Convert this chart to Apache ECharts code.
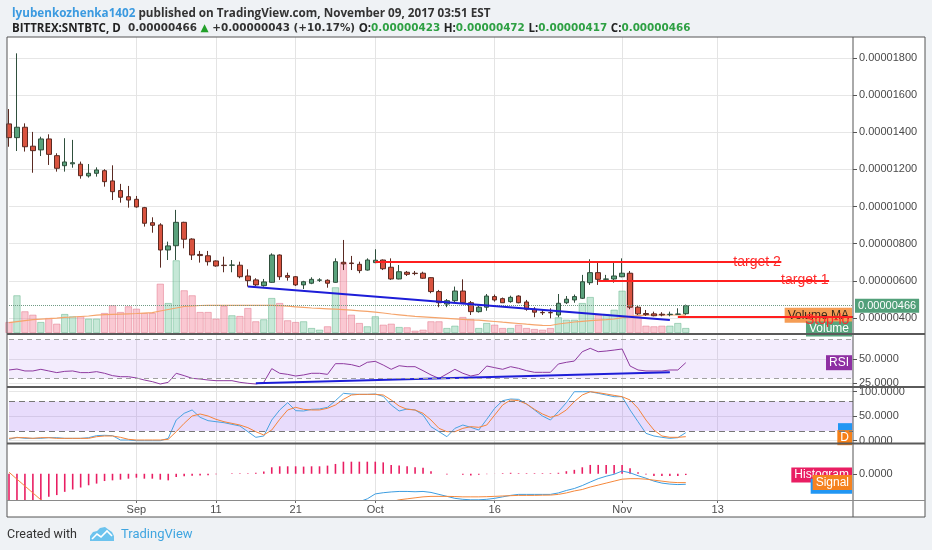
<!DOCTYPE html>
<html><head><meta charset="utf-8">
<script src="https://cdn.jsdelivr.net/npm/echarts@6/dist/echarts.min.js"></script>
<style>html,body{margin:0;padding:0;background:#fff}#c{width:932px;height:550px}</style>
</head><body><div id="c"></div><script>
// ---------- DATA ----------
const categories = [
'2017-08-16','2017-08-17','2017-08-18','2017-08-19','2017-08-20','2017-08-21','2017-08-22','2017-08-23','2017-08-24','2017-08-25','2017-08-26','2017-08-27','2017-08-28','2017-08-29','2017-08-30','2017-08-31',
'2017-09-01','2017-09-02','2017-09-03','2017-09-04','2017-09-05','2017-09-06','2017-09-07','2017-09-08','2017-09-09','2017-09-10','2017-09-11','2017-09-12','2017-09-13','2017-09-14','2017-09-15','2017-09-16','2017-09-17','2017-09-18','2017-09-19','2017-09-20','2017-09-21','2017-09-22','2017-09-23','2017-09-24','2017-09-25','2017-09-26','2017-09-27','2017-09-28','2017-09-29','2017-09-30',
'2017-10-01','2017-10-02','2017-10-03','2017-10-04','2017-10-05','2017-10-06','2017-10-07','2017-10-08','2017-10-09','2017-10-10','2017-10-11','2017-10-12','2017-10-13','2017-10-14','2017-10-15','2017-10-16','2017-10-17','2017-10-18','2017-10-19','2017-10-20','2017-10-21','2017-10-22','2017-10-23','2017-10-24','2017-10-25','2017-10-26','2017-10-27','2017-10-28','2017-10-29','2017-10-30','2017-10-31',
'2017-11-01','2017-11-02','2017-11-03','2017-11-04','2017-11-05','2017-11-06','2017-11-07','2017-11-08','2017-11-09','2017-11-10','2017-11-11','2017-11-12','2017-11-13','2017-11-14','2017-11-15','2017-11-16','2017-11-17','2017-11-18','2017-11-19','2017-11-20','2017-11-21','2017-11-22','2017-11-23','2017-11-24','2017-11-25','2017-11-26','2017-11-27','2017-11-28','2017-11-29','2017-11-30'];
const tickDates = ['2017-09-01','2017-09-11','2017-09-21','2017-10-01','2017-10-16','2017-11-01','2017-11-13'];
const tickLabels = ['Sep','11','21','Oct','16','Nov','13'];

// prices in units of 0.00000001 BTC
const open  = [1445,1371,1427,1325,1305,1364,1274,1220,1230,1228,1165,1179,1193,1138,1086,1053,1039,994,913,901,766,789,915,825,742,735,707,684,684,684,626,605,574,592,739,628,622,578,587,603,603,592,700,696,689,658,698,712,673,610,646,641,641,617,542,475,493,545,482,434,458,515,504,488,518,486,447,430,429,416,482,497,506,590,644,608,610,622,641,458,424,422,420,418,420,423];
const close = [1371,1427,1322,1301,1364,1281,1206,1240,1236,1166,1179,1197,1134,1080,1050,1035,998,910,899,766,788,915,824,739,736,703,680,682,685,622,601,578,594,739,622,619,578,595,608,605,587,703,691,693,655,712,711,665,610,649,635,639,614,542,482,493,545,482,434,458,518,497,482,511,482,447,431,428,428,479,501,515,595,644,608,610,626,641,458,422,418,412,416,420,421,466];
const low   = [1322,1299,1296,1182,1272,1224,1188,1188,1209,1150,1156,1161,1107,1035,1021,994,994,892,859,671,712,712,775,712,698,682,676,646,646,614,569,572,569,590,605,601,572,556,582,594,563,590,658,658,641,655,695,658,605,608,626,630,610,533,458,458,482,479,416,429,439,488,482,482,479,439,404,416,398,404,475,482,502,578,578,599,590,619,447,416,411,409,409,409,416,417];
const high  = [1525,1825,1448,1402,1376,1389,1287,1368,1359,1242,1229,1211,1201,1222,1122,1111,1057,998,942,910,811,982,918,829,761,761,710,730,712,703,662,614,610,748,742,644,626,600,619,614,608,721,820,734,703,721,770,715,721,685,653,653,649,619,551,502,569,608,491,466,529,526,510,520,522,497,458,447,452,529,518,526,632,716,698,632,698,721,653,470,443,434,431,434,452,472];
const priceTicks = [400,600,800,1000,1200,1400,1600,1800];
const lastPrice = 466;
const priceChange = 43;
const priceChangePct = 10.17;

// volume (relative units) and its moving average
const volume   = [11,37.7,21.7,18.3,11,15,9.3,19,16.7,16.7,14.3,14.3,20,27.7,21,26.7,24.3,20,20,49.3,30,72.7,42.7,37.7,21,21,14.3,27,17.7,17,25,11.7,13.7,35,30,12.7,11,11.7,5,3.3,6.7,45.7,70.7,18.3,10,6.7,16.7,8.3,9.3,6,5.7,2.3,3.3,11.7,11.7,5,7.3,16,14,5,10,8.3,5,5,8.3,5,4,3.3,5,15.7,13.3,13.3,30,36,18.3,19,23.3,42.3,60,16.7,7.3,6.7,7.3,7.3,10,5];
const volumeMA = [10.3,11.3,12.3,13.3,13.8,14.3,14.9,15.6,16,16.5,17,17.8,18.3,18.6,18.9,19.2,19.5,19.9,20.3,22,23.5,25,26.5,27,27.5,27.7,27.7,27.7,27.7,27.7,27.7,27.7,27.7,27.7,27.3,26.8,26.2,25.6,25,24.6,24.2,23.8,23.4,22.8,22.2,21.6,20.9,20,19,18.2,17.4,16.7,16.2,15.7,15.2,14.7,14.2,13.7,13.2,12.8,12.2,11.5,10.8,10.2,9.5,8.8,8.2,7.6,7.5,9,10,11,11.7,12.3,12.8,13.3,14,15.3,16.7,17.4,17.8,18,18,18,18,17.8];

// RSI
const rsi = [38.7,39.7,37.7,37.7,39.4,37.7,36,37.3,37.7,36,36,37,35.3,32.9,31.8,31.8,30.5,28.4,26.7,24.3,26,35.3,32.9,30.1,29.4,28.4,27.7,27.7,27.7,26,25,24.3,26,40.1,35.3,34.2,32.5,33.6,35.3,35.3,34.2,45.2,45.2,44.2,42.1,46.6,47.6,43.8,39.4,43.1,42.1,42.1,38,33.6,30.1,34.6,39.4,35.3,32.5,34.2,42.8,41.1,39.4,42.1,40.4,38,36.3,36.3,36.3,44.9,46.6,47.9,57.5,61,57.5,58.2,59.2,60.3,42.8,38.7,37.7,37.7,37.7,38.7,38.7,46.2];
const rsiTicks = [25,50];
const rsiBands = [30,70];

// Stochastic
const stochK = [2.8,6.9,4.8,4.8,4.8,6.2,6.2,4.8,4.8,4.8,6.2,10.3,11,10.3,1.4,1.4,0,0,0,0,4.8,42.2,55.9,62.7,47.7,40.9,38.8,36.8,33.4,30,18.4,6.9,9.6,42.2,62.7,77.6,61.3,60.6,64,64.7,68.1,81.7,96.7,95.3,94.6,94.6,95.3,90.5,72.9,60.6,64.7,62.7,52.4,28.6,18.4,8.2,25.2,32,27.3,21.8,43.6,66.1,81.7,85.1,84.4,74.9,62.7,50.4,42.2,59.2,77.6,100,100,100,96.7,93.3,89.8,89.8,62.7,38.8,15,9.6,6.9,4.8,6.2,16.4];
const stochD = [4.8,6.2,6.2,4.8,6.2,6.2,4.8,4.8,4.8,4.8,4.8,8.2,9.6,9.6,6.9,2.8,1.4,1.4,1.4,1.4,2.8,18.4,35.4,50.4,54.5,50.4,43.6,38.8,35.4,32,26.6,18.4,11.6,21.8,43.6,62.7,68.1,64,62.7,62.7,66.1,72.9,84.4,93.3,94.6,94.6,94.6,93.3,83.1,70.8,64,62.7,55.9,42.2,25.2,18.4,18.4,25.2,28.6,27.3,32,52.4,72.9,83.1,81.7,74.9,64,54.5,47.7,52.4,62.7,79.7,93.3,100,98,95.3,92.5,89.8,83.1,66.1,42.2,21.8,9.6,6.9,6.9,8.2];
const stochTicks = [0,50,100];
const stochBands = [20,80];

// MACD (relative units)
const macdHist = [-33,-32,-30,-29,-27,-23.3,-21.7,-18.4,-16,-14,-11.7,-10,-7.4,-6.7,-6,-5,-4,-5,-5,-6,-6.7,-3.3,-2.4,-2,-1.7,-1.4,-0.4,-0.1,0.6,0.6,0.6,1,2.3,6.6,7.6,7.6,7.6,7.3,7.6,7.6,8.3,10,12.3,12.3,12.3,12.3,12.3,11.6,9,8.3,7.6,6.6,6,2.6,-0.1,-0.7,-0.1,-1,-1.7,-1,-0.4,-0.1,0.6,1,0.6,0.6,0.6,0.6,0.6,1,2.6,4,6.6,9,9,9,9,9,5.6,1.6,-0.7,-2.3,-2.3,-2.3,-2.3,-1.3];
const macdLine = [-31.4,-37.5,-42.5,-48.5,-53.5,-56.3,-60.7,-62.4,-65,-67,-68.2,-69.5,-69.4,-70.7,-71,-71,-71,-73,-74,-76,-77.7,-74.3,-73.4,-72,-70.7,-69.4,-67.4,-66.1,-63.4,-61.4,-59.4,-57,-53.7,-47.4,-44.4,-42.4,-40.4,-39.2,-37.4,-35.9,-33.7,-31,-28.7,-27.7,-28.5,-25.5,-20.5,-19.3,-18.5,-18,-18,-18.3,-18,-19,-21,-23,-25,-26,-26.5,-26.5,-26,-25,-23.5,-22,-21,-21,-21,-21,-21,-19.5,-17,-15,-12,-8.4,-5,-2.5,-0.5,2.8,1,-2,-4.5,-7.5,-9.5,-10.5,-11,-10.7];
const macdSignal = [1.6,-5.5,-12.5,-19.5,-26.5,-33,-39,-44,-49,-53,-56.5,-59.5,-62,-64,-65,-66,-67,-68,-69,-70,-71,-71,-71,-70,-69,-68,-67,-66,-64,-62,-60,-58,-56,-54,-52,-50,-48,-46.5,-45,-43.5,-42,-41,-40,-39,-38,-36,-33,-30.6,-28.5,-26.5,-25.5,-24.5,-23.5,-23,-23,-23,-23.2,-23.5,-23.5,-23.5,-23.3,-23,-22.6,-22.3,-22,-22,-22,-21.8,-21.7,-21,-19.5,-17.5,-16,-13.5,-11.5,-9.5,-7.5,-5.5,-5,-5,-5.5,-6.5,-7.5,-8.5,-9,-9];
const macdTicks = [0];

// drawings
const priceTrend = [['2017-09-15',569],['2017-11-07',389]];
const rsiTrend   = [['2017-09-16',25],['2017-11-07',36.3]];
const levelNames  = ['target 2','target 1','Stop-loss'];
const levelPrices = [700,603,404];
const levelFrom   = ['2017-10-01','2017-10-29','2017-11-08'];
const levelTo     = ['2017-11-21','2017-11-27','2017-11-30'];

// ---------- CHART ----------
const chart = echarts.init(document.getElementById('c'), null, {renderer:'canvas'});
const fmtP = v => (v/1e8).toFixed(8);
const fmt4 = v => Number(v).toFixed(4);
const isTick = (i, v) => tickDates.indexOf(v) >= 0;
const FONT = 'Liberation Sans';
const GRID_L = 9, GRID_R = 79;

const upVol = {color:'rgba(120,200,160,0.42)', borderColor:'rgba(80,170,125,0.55)'};
const dnVol = {color:'rgba(245,140,160,0.48)', borderColor:'rgba(225,110,130,0.6)'};

const xAx = g => ({
  type:'category', gridIndex:g, data:categories, boundaryGap:false, show: g!==1,
  axisLine:{show:false, onZero:false},
  axisTick:{show:g===4, interval:isTick, length:3, lineStyle:{color:'#666'}},
  axisLabel:{show:g===4, interval:isTick, margin:4, color:'#4d4d4d', fontSize:11, fontFamily:FONT,
    formatter:v=>{const k=tickDates.indexOf(v);return k>=0?tickLabels[k]:'';}},
  splitLine:{show:true, interval:isTick, lineStyle:{color:'#e4e4e4', width:1}}
});
const yAx = (g, min, max, ticks, fmt) => ({
  type:'value', gridIndex:g, position:'right', min:min, max:max,
  axisLine:{show:false},
  axisTick:{show:true, customValues:ticks, length:4, lineStyle:{color:'#555'}},
  axisLabel:{customValues:ticks, formatter:fmt, color:'#4a4a4a', fontSize:11, fontFamily:FONT, margin:6},
  splitLine:{show:true, lineStyle:{color:'#e6e6e6'}}
});

const levelLines = levelNames.map((n,i)=>[
  {coord:[levelFrom[i], levelPrices[i]],
   label:{show:true, position:'end', distance:5, offset: i===2?[-53,3]:[-53,0], formatter:n,
          color:'#ff2a2a', fontSize:14, fontFamily:FONT,
          width: i===2?48:undefined, overflow: i===2?'truncate':'none', ellipsis:''}},
  {coord:[levelTo[i], levelPrices[i]]}
]);

const HF = 'Open Sans', VF = 'DejaVu Sans';
const option = {
  animation:false,
  backgroundColor:'#ffffff',
  title:{
    left:7, top:1,
    text:'{u|lyubenkozhenka1402}{t| published on TradingView.com, November 09, 2017 03:51 EST}\n' +
         '{b|BITTREX:SNTBTC, D}{v|  '+fmtP(lastPrice)+' }{tri|▲}{v| +'+fmtP(priceChange)+' (+'+priceChangePct.toFixed(2)+'%) }' +
         '{b|O:}{g|'+fmtP(open[85])+'}{v| }{b|H:}{g|'+fmtP(high[85])+'}{v| }{b|L:}{g|'+fmtP(low[85])+'}{v| }{b|C:}{g|'+fmtP(close[85])+'}',
    textStyle:{rich:{
      u:{color:'#3b9ae0', fontSize:11.7, fontFamily:HF, lineHeight:15},
      t:{color:'#333333', fontSize:11.7, fontFamily:HF, lineHeight:15},
      b:{color:'#222222', fontSize:11.5, fontFamily:HF, fontWeight:'bold', lineHeight:15},
      v:{color:'#333333', fontSize:10.4, fontFamily:VF, lineHeight:15},
      g:{color:'#2ea043', fontSize:10.4, fontFamily:VF, lineHeight:15},
      tri:{color:'#22a02a', fontSize:10.5, fontFamily:VF, lineHeight:15}
    }}
  },
  grid:[
    {left:GRID_L, right:GRID_R, top:37, height:296},
    {left:GRID_L, right:GRID_R, top:253, height:80},
    {left:GRID_L, right:GRID_R, top:335, height:52},
    {left:GRID_L, right:GRID_R, top:387, height:56},
    {left:GRID_L, right:GRID_R, top:444, height:56}
  ],
  xAxis:[xAx(0),xAx(1),xAx(2),xAx(3),xAx(4)],
  yAxis:[
    yAx(0, 319, 1913, priceTicks, fmtP),
    {type:'value', gridIndex:1, min:0, max:80, show:false},
    yAx(2, 21.2, 74.7, rsiTicks, fmt4),
    yAx(3, -4.7, 109.6, stochTicks, fmt4),
    Object.assign(yAx(4, -26.7, 30.3, macdTicks, fmt4), {splitLine:{show:false}})
  ],
  series:[
    {name:'Volume', type:'bar', xAxisIndex:1, yAxisIndex:1, z:1, clip:false, barWidth:7.2,
     data: volume.map((v,i)=>({value:v, itemStyle: Object.assign({borderWidth:0.8}, close[i]>=open[i]?upVol:dnVol)}))},
    {name:'Volume MA', type:'line', xAxisIndex:1, yAxisIndex:1, z:2, symbol:'none', data:volumeMA,
     lineStyle:{color:'#f5a46b', width:1.2}},
    {name:'SNTBTC', type:'candlestick', xAxisIndex:0, yAxisIndex:0, z:5, clip:false, barWidth:5,
     data: open.map((o,i)=>[o, close[i], low[i], high[i]]),
     itemStyle:{color:'#5aa27c', color0:'#d9533f', borderColor:'#2f4f3c', borderColor0:'#5a2a22', borderWidth:1},
     markLine:{symbol:'none', silent:true, z:6,
       data:[
         {yAxis:lastPrice, lineStyle:{type:'dotted', color:'#6f9a84', width:1},
          label:{show:true, position:'end', distance:2, formatter:fmtP(lastPrice), color:'#fff',
                 backgroundColor:'#52a07a', padding:[2,3,1,3], fontSize:11, fontFamily:FONT}},
         ...levelLines
       ],
       lineStyle:{color:'#ff1f1f', width:2, type:'solid'}}
    },
    {name:'Trend', type:'line', xAxisIndex:0, yAxisIndex:0, z:6, symbol:'none', data:priceTrend,
     lineStyle:{color:'#1d1dd8', width:2}},
    {name:'RSI', type:'line', xAxisIndex:2, yAxisIndex:2, z:2, symbol:'none', data:rsi,
     lineStyle:{color:'#8e3aa0', width:1},
     markArea:{silent:true, itemStyle:{color:'rgba(160,110,240,0.13)'}, data:[[{yAxis:rsiBands[0]},{yAxis:rsiBands[1]}]]},
     markLine:{symbol:'none', silent:true, label:{show:false}, lineStyle:{color:'#a0a0a0', type:[5,4], width:1},
       data:rsiBands.map(b=>({yAxis:b}))}},
    {name:'RSI trend', type:'line', xAxisIndex:2, yAxisIndex:2, z:3, symbol:'none', data:rsiTrend,
     lineStyle:{color:'#1d1dd8', width:2}},
    {name:'K', type:'line', xAxisIndex:3, yAxisIndex:3, z:2, symbol:'none', data:stochK,
     lineStyle:{color:'#4aa3e2', width:1},
     markArea:{silent:true, itemStyle:{color:'rgba(150,95,240,0.22)'}, data:[[{yAxis:stochBands[0]},{yAxis:stochBands[1]}]]},
     markLine:{symbol:'none', silent:true, label:{show:false}, lineStyle:{color:'#777', type:[6,4], width:1},
       data:stochBands.map(b=>({yAxis:b}))}},
    {name:'D', type:'line', xAxisIndex:3, yAxisIndex:3, z:2, symbol:'none', data:stochD,
     lineStyle:{color:'#f5843a', width:1}},
    {name:'Histogram', type:'bar', xAxisIndex:4, yAxisIndex:4, z:2, barWidth:1.6, data:macdHist,
     itemStyle:{color:'#e91e63'}},
    {name:'MACD', type:'line', xAxisIndex:4, yAxisIndex:4, z:2, symbol:'none', data:macdLine,
     lineStyle:{color:'#3d9de0', width:1}},
    {name:'Signal', type:'line', xAxisIndex:4, yAxisIndex:4, z:2, symbol:'none', data:macdSignal,
     lineStyle:{color:'#f5883c', width:1}}
  ]
};
chart.setOption(option);

// ---------- decorations & right-edge value labels ----------
const BG = '#eff2f5';
const L = 7, R = 925, T = 37, B = 517, AX = 853;
const py = (ax, v) => chart.convertToPixel({yAxisIndex:ax}, v);
const box = (txt, y, bg, fg, z) => ({type:'text', x:AX-1, y:y, z:z,
  style:{text:txt, fill:fg, font:'12px '+FONT, align:'right', verticalAlign:'middle',
         backgroundColor:bg, padding:[2,3,1,3]}});
const n = close.length - 1;
const gfx = [
  {type:'rect', shape:{x:0,y:0,width:932,height:T}, style:{fill:BG}, z:0},
  {type:'rect', shape:{x:0,y:B,width:932,height:550-B}, style:{fill:BG}, z:0},
  {type:'rect', shape:{x:0,y:T,width:L,height:B-T}, style:{fill:BG}, z:0},
  {type:'rect', shape:{x:R,y:T,width:932-R,height:B-T}, style:{fill:BG}, z:0},
  {type:'rect', shape:{x:L,y:T,width:R-L,height:B-T}, style:{fill:'none', stroke:'#555', lineWidth:1}, z:100},
  {type:'line', shape:{x1:AX,y1:T,x2:AX,y2:B}, style:{stroke:'#555', lineWidth:1}, z:100},
  {type:'line', shape:{x1:L,y1:334,x2:R,y2:334}, style:{stroke:'#5a5a5a', lineWidth:2}, z:100},
  {type:'line', shape:{x1:L,y1:387,x2:R,y2:387}, style:{stroke:'#5a5a5a', lineWidth:2}, z:100},
  {type:'line', shape:{x1:L,y1:443.5,x2:R,y2:443.5}, style:{stroke:'#5a5a5a', lineWidth:2}, z:100},
  {type:'line', shape:{x1:L,y1:500.5,x2:R,y2:500.5}, style:{stroke:'#8a8a8a', lineWidth:1}, z:100},
  box('Volume MA', py(1, volumeMA[n]), '#f59d55', '#3a2a1a', 3),
  box('Volume', py(1, volume[n]) + 1, '#58a57d', '#ffffff', 3),
  box('RSI', py(2, rsi[n]), '#8e2fa3', '#ffffff', 3),
  box('K', py(3, stochK[n]) - 2, '#2196f3', '#2196f3', 3),
  box('D', py(3, stochD[n]) + 1, '#f57f17', '#ffffff', 4),
  box('Histogram', py(4, macdHist[n]), '#e91e63', '#ffffff', 3),
  box('MACD', py(4, macdLine[n]) + 2, '#2196f3', '#ffffff', 4),
  box('Signal', py(4, macdSignal[n]), '#f5821f', '#ffffff', 5),
  {type:'text', x:7, y:535, z:10, style:{text:'Created with', fill:'#333', font:'12.5px Roboto', verticalAlign:'middle'}},
  {type:'polygon', z:10, shape:{points:[[90,541],[90,536],[93,532],[97,531],[100,528],[105,527],[109,530],[112,532],[114,536],[114,541]]}, style:{fill:'#6cc3ee'}},
  {type:'polyline', z:11, shape:{points:[[92,539],[97,534],[101,537],[107,531],[112,536]]}, style:{stroke:'#ffffff', lineWidth:1.6, fill:'none'}},
  {type:'text', x:121, y:535, z:10, style:{text:'TradingView', fill:'#3fa5e0', font:'13px Roboto', verticalAlign:'middle'}}
];
chart.setOption({graphic: gfx});
</script></body></html>
